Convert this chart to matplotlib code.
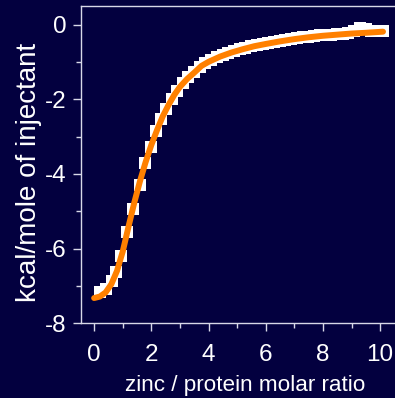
import matplotlib
matplotlib.use("Agg")
import matplotlib.pyplot as plt
from matplotlib.ticker import MultipleLocator

plt.rcParams['font.family'] = ['Liberation Sans', 'DejaVu Sans']

# Measured data (white squares)
ratio = [0.20, 0.41, 0.61, 0.78, 0.95, 1.15, 1.37, 1.59, 1.78, 1.98,
         2.16, 2.34, 2.52, 2.71, 2.90, 3.09, 3.29, 3.49, 3.69, 3.89,
         4.09, 4.29, 4.49, 4.69, 4.89, 5.09, 5.29, 5.49, 5.69, 5.89,
         6.09, 6.29, 6.49, 6.69, 6.89, 7.09, 7.29, 7.49, 7.69, 7.89,
         8.09, 8.29, 8.49, 8.69, 8.89, 9.09, 9.29, 9.49, 9.69, 9.89, 10.09]
heat = [-7.18, -7.08, -6.88, -6.62, -6.19, -5.55, -4.93, -4.29, -3.70, -3.27,
        -2.84, -2.52, -2.25, -2.00, -1.78, -1.57, -1.40, -1.26, -1.12, -1.02,
        -0.95, -0.87, -0.80, -0.74, -0.70, -0.64, -0.61, -0.57, -0.53, -0.50,
        -0.48, -0.45, -0.42, -0.40, -0.38, -0.35, -0.33, -0.32, -0.30, -0.28,
        -0.27, -0.26, -0.24, -0.23, -0.21, -0.16, -0.08, -0.10, -0.17, -0.17, -0.16]

# Fitted curve (orange)
fit_x = [0.0, 0.2, 0.4, 0.6, 0.8, 1.0, 1.2, 1.4, 1.6, 1.8, 2.0, 2.2, 2.4, 2.6,
         2.8, 3.0, 3.25, 3.5, 3.75, 4.0, 4.4, 4.8, 5.2, 5.6, 6.0, 6.5, 7.0,
         7.5, 8.0, 8.5, 9.0, 9.5, 10.1]
fit_y = [-7.33, -7.29, -7.18, -6.96, -6.60, -6.08, -5.42, -4.78, -4.20, -3.68,
         -3.22, -2.82, -2.45, -2.15, -1.88, -1.66, -1.45, -1.28, -1.10, -0.99,
         -0.85, -0.74, -0.65, -0.57, -0.51, -0.44, -0.38, -0.33, -0.29, -0.26,
         -0.23, -0.21, -0.18]

xticks = [0, 2, 4, 6, 8, 10]
yticks = [0, -2, -4, -6, -8]

bg = '#03003F'
fg = '#FFFFFF'
spine_c = '#D8D8E8'

fig = plt.figure(figsize=(3.95, 3.98), dpi=100, facecolor=bg)
ax = fig.add_axes([0.2043, 0.1884, 0.7957, 0.7966], facecolor=bg)

ax.plot(ratio, heat, linestyle='none', marker='s', markersize=8.3,
        markerfacecolor='white', markeredgewidth=0, zorder=2)
ax.plot(fit_x, fit_y, color='#FF8000', linewidth=4.3,
        solid_capstyle='round', solid_joinstyle='round', zorder=3)

ax.set_xlim(-0.47, 10.52)
ax.set_ylim(-8, 0.51)
ax.set_xticks(xticks)
ax.set_yticks(yticks)
ax.set_yticklabels([str(v) for v in yticks])
ax.xaxis.set_minor_locator(MultipleLocator(1))
ax.yaxis.set_minor_locator(MultipleLocator(1))

ax.spines['right'].set_visible(False)
for s in ['left', 'bottom', 'top']:
    ax.spines[s].set_color(spine_c)
    ax.spines[s].set_linewidth(1.0)

ax.tick_params(axis='both', which='major', direction='out', length=6,
               width=1, color=spine_c, labelcolor=fg, labelsize=17.5)
ax.tick_params(axis='both', which='minor', direction='out', length=3.5,
               width=1, color=spine_c)
ax.tick_params(axis='x', which='major', pad=9)
ax.tick_params(axis='y', which='major', pad=4)

ax.set_xlabel('zinc / protein molar ratio', color=fg, fontsize=16.2)
ax.xaxis.set_label_coords(0.522, -0.165)
ax.xaxis.label.set_va('top')
ax.set_ylabel('kcal/mole of injectant', color=fg, fontsize=20)
ax.yaxis.set_label_coords(-0.122, 0.476)

fig.savefig('out.png', dpi=100, facecolor=bg)
